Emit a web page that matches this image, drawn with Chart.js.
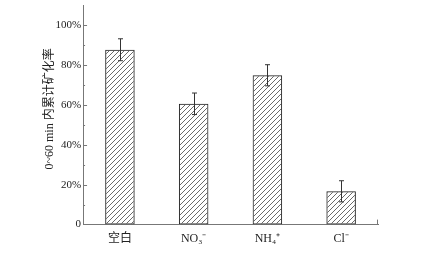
<!DOCTYPE html>
<html lang="zh">
<head>
  <meta charset="UTF-8">
  <title>累计矿化率</title>
  <script src="https://cdn.jsdelivr.net/npm/chart.js"></script>
  <style>
    html, body { margin: 0; padding: 0; background: #fff; }
    #wrap { position: relative; width: 424px; height: 255px; }
  </style>
</head>
<body>
  <div id="wrap"><canvas id="chartCanvas"></canvas></div>
  <script>
    // data
    const categories = ['空白', 'NO₃⁻', 'NH₄⁺', 'Cl⁻'];
    const rates = [87.7, 60.6, 74.9, 16.7];
    const errors = [5.5, 5.4, 5.3, 5.3];
    const yTicks = [0, 10, 20, 30, 40, 50, 60, 70, 80, 90, 100];

    const serif = "'Liberation Serif', 'Noto Sans CJK SC', serif";
    const axisColor = '#777';

    // diagonal hatch fill
    const makeHatch = () => {
      const c = document.createElement('canvas');
      c.width = 5; c.height = 5;
      const g = c.getContext('2d');
      g.strokeStyle = '#444';
      g.lineWidth = 0.8;
      g.beginPath();
      g.moveTo(-1, 6); g.lineTo(6, -1);
      g.moveTo(-1, 1); g.lineTo(1, -1);
      g.moveTo(4, 6); g.lineTo(6, 4);
      g.stroke();
      return g.createPattern(c, 'repeat');
    };

    // inward ticks on y axis and the small end tick on x axis
    const axisTicks = {
      id: 'axisTicks',
      afterDraw(chart) {
        const ctx = chart.ctx;
        const y = chart.scales.y;
        const area = chart.chartArea;
        ctx.save();
        ctx.strokeStyle = axisColor;
        ctx.lineWidth = 1;
        ctx.beginPath();
        yTicks.forEach(v => {
          if (v === 0) return;
          const py = Math.round(y.getPixelForValue(v)) + 0.5;
          const len = v % 20 === 0 ? 4 : 2;
          ctx.moveTo(area.left, py);
          ctx.lineTo(area.left + len, py);
        });
        ctx.moveTo(area.right - 0.5, area.bottom);
        ctx.lineTo(area.right - 0.5, area.bottom - 5);
        ctx.stroke();
        ctx.restore();
      }
    };

    // error bars
    const errorBars = {
      id: 'errorBars',
      afterDatasetsDraw(chart) {
        const ctx = chart.ctx;
        const y = chart.scales.y;
        const meta = chart.getDatasetMeta(0);
        ctx.save();
        ctx.strokeStyle = '#333';
        ctx.lineWidth = 1;
        meta.data.forEach((bar, i) => {
          const x = Math.round(bar.x) + 0.5;
          const top = y.getPixelForValue(rates[i] + errors[i]);
          const bot = y.getPixelForValue(rates[i] - errors[i]);
          ctx.beginPath();
          ctx.moveTo(x, top); ctx.lineTo(x, bot);
          ctx.moveTo(x - 2.5, top); ctx.lineTo(x + 2.5, top);
          ctx.moveTo(x - 2.5, bot); ctx.lineTo(x + 2.5, bot);
          ctx.stroke();
        });
        ctx.restore();
      }
    };

    const ctx = document.getElementById('chartCanvas').getContext('2d');
    new Chart(ctx, {
      type: 'bar',
      data: {
        labels: categories,
        datasets: [{
          data: rates,
          backgroundColor: makeHatch(),
          borderColor: '#222',
          borderWidth: 1,
          borderSkipped: false,
          categoryPercentage: 1,
          barPercentage: 0.4
        }]
      },
      options: {
        responsive: true,
        maintainAspectRatio: false,
        animation: false,
        layout: { padding: { left: 43, right: 46, top: 1.5, bottom: 2 } },
        plugins: {
          legend: { display: false },
          tooltip: { enabled: false }
        },
        scales: {
          x: {
            grid: { display: false, drawTicks: false },
            border: { color: axisColor, width: 1 },
            ticks: { color: '#222', padding: 7, font: { family: serif, size: 12 } }
          },
          y: {
            min: 0,
            max: 110,
            grid: { display: false, drawTicks: false },
            border: { color: axisColor, width: 1 },
            afterBuildTicks: scale => { scale.ticks = yTicks.map(v => ({ value: v })); },
            ticks: {
              color: '#222',
              padding: 2,
              font: { family: serif, size: 11, lineHeight: 0.6 },
              callback: v => (v === 0 ? '0' : (v % 20 === 0 ? v + '%' : ''))
            },
            title: {
              display: true,
              text: '\u00a0\u00a0\u00a0\u00a00~60 min 内累计矿化率',
              color: '#222',
              padding: { top: 0, bottom: -4 },
              font: { family: serif, size: 12 }
            }
          }
        }
      },
      plugins: [axisTicks, errorBars]
    });
  </script>
</body>
</html>
